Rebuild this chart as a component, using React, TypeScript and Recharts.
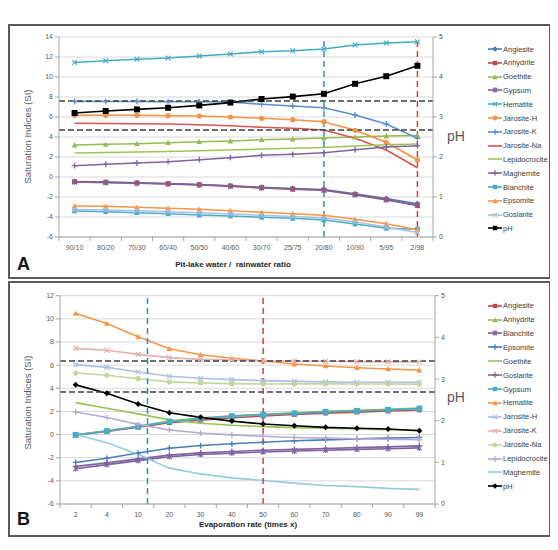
import React from 'react';
import { LineChart, Line, XAxis, YAxis, CartesianGrid, ReferenceLine } from 'recharts';

// Panel A: mixing of pit-lake water with rainwater
const catsA = ['90/10', '80/20', '70/30', '60/40', '50/50', '40/60', '30/70', '25/75', '20/80', '10/90', '5/95', '2/98'];
const anglesiteA = [-0.45, -0.5, -0.57, -0.65, -0.75, -0.87, -1.03, -1.15, -1.25, -1.68, -2.15, -2.67];
const anhydriteA = [-0.47, -0.53, -0.6, -0.67, -0.77, -0.9, -1.07, -1.2, -1.3, -1.75, -2.25, -2.87];
const goethiteA = [3.2, 3.27, 3.33, 3.43, 3.53, 3.6, 3.73, 3.8, 3.9, 4.0, 4.1, 4.15];
const gypsumA = [-0.5, -0.56, -0.63, -0.7, -0.8, -0.93, -1.1, -1.23, -1.33, -1.78, -2.3, -2.8];
const hematiteA = [11.45, 11.63, 11.77, 11.9, 12.1, 12.3, 12.53, 12.63, 12.8, 13.2, 13.4, 13.53];
const jarositeHA = [6.17, 6.17, 6.17, 6.13, 6.1, 6.0, 5.87, 5.73, 5.53, 4.67, 3.47, 1.7];
const jarositeKA = [7.55, 7.55, 7.55, 7.53, 7.52, 7.5, 7.27, 7.1, 6.93, 6.2, 5.3, 3.87];
const jarositeNaA = [5.37, 5.35, 5.33, 5.3, 5.23, 5.13, 4.97, 4.87, 4.7, 3.87, 2.7, 0.93];
const lepidocrociteA = [2.4, 2.45, 2.5, 2.55, 2.62, 2.7, 2.8, 2.87, 2.95, 3.1, 3.22, 3.3];
const maghemiteA = [1.13, 1.27, 1.4, 1.53, 1.73, 1.93, 2.17, 2.27, 2.43, 2.73, 3.0, 3.13];
const bianchiteA = [-3.4, -3.47, -3.57, -3.67, -3.8, -3.9, -4.03, -4.13, -4.3, -4.7, -5.13, -5.23];
const epsomiteA = [-2.9, -2.93, -3.03, -3.13, -3.23, -3.37, -3.53, -3.67, -3.83, -4.23, -4.67, -5.27];
const goslariteA = [-3.25, -3.3, -3.38, -3.48, -3.58, -3.7, -3.83, -3.95, -4.1, -4.5, -5.0, -5.55];
const phA = [3.1, 3.15, 3.19, 3.23, 3.29, 3.36, 3.45, 3.51, 3.58, 3.83, 4.02, 4.28];
const refSIA = [7.6, 4.7];

// Panel B: evaporation
const catsB = ['2', '4', '10', '20', '30', '40', '50', '60', '70', '80', '90', '99'];
const anglesiteB = [-0.05, 0.27, 0.63, 1.02, 1.25, 1.45, 1.6, 1.73, 1.85, 1.94, 2.03, 2.12];
const anhydriteB = [-0.03, 0.33, 0.72, 1.17, 1.42, 1.63, 1.75, 1.88, 2.0, 2.1, 2.19, 2.3];
const bianchiteB = [-2.95, -2.6, -2.25, -1.92, -1.72, -1.6, -1.5, -1.42, -1.35, -1.28, -1.22, -1.15];
const epsomiteB = [-2.41, -2.04, -1.6, -1.18, -0.95, -0.8, -0.66, -0.54, -0.46, -0.37, -0.31, -0.25];
const goethiteB = [2.76, 2.28, 1.79, 1.27, 0.98, 0.81, 0.69, 0.6, 0.55, 0.49, 0.43, 0.37];
const goslariteB = [-2.75, -2.45, -2.1, -1.78, -1.58, -1.46, -1.36, -1.28, -1.2, -1.13, -1.06, -0.98];
const gypsumB = [-0.03, 0.3, 0.69, 1.12, 1.38, 1.59, 1.7, 1.84, 1.96, 2.04, 2.13, 2.24];
const hematiteB = [10.47, 9.6, 8.46, 7.42, 6.9, 6.59, 6.36, 6.1, 5.93, 5.78, 5.67, 5.58];
const jarositeHB = [6.04, 5.81, 5.41, 5.04, 4.86, 4.75, 4.66, 4.6, 4.55, 4.52, 4.52, 4.52];
const jarositeKB = [7.45, 7.28, 6.93, 6.65, 6.5, 6.44, 6.38, 6.36, 6.33, 6.3, 6.28, 6.27];
const jarositeNaB = [5.32, 5.12, 4.83, 4.55, 4.46, 4.4, 4.37, 4.38, 4.38, 4.37, 4.37, 4.36];
const lepidocrociteB = [1.95, 1.47, 0.88, 0.4, 0.13, -0.03, -0.15, -0.25, -0.31, -0.36, -0.4, -0.45];
const maghemiteB = [0, -0.7, -1.7, -2.9, -3.4, -3.74, -3.97, -4.2, -4.4, -4.5, -4.65, -4.74];
const phB = [2.86, 2.66, 2.4, 2.19, 2.08, 1.99, 1.92, 1.88, 1.84, 1.82, 1.8, 1.76];
const refSIB = [6.36, 3.68];

const ticksA = [-6, -4, -2, 0, 2, 4, 6, 8, 10, 12, 14];
const ticksB = [-6, -4, -2, 0, 2, 4, 6, 8, 10, 12];
const ticksPH = [0, 1, 2, 3, 4, 5];

type Shape = 'square' | 'diamond' | 'triangle' | 'circle' | 'x' | 'asterisk' | 'plus' | 'none';
interface Series { name: string; values: number[]; color: string; shape: Shape; axis: 'left' | 'right'; r?: number }

const seriesA: Series[] = [
  { name: 'Anglesite', values: anglesiteA, color: '#4a7ebb', shape: 'diamond', axis: 'left' },
  { name: 'Anhydrite', values: anhydriteA, color: '#be4b48', shape: 'square', axis: 'left' },
  { name: 'Goethite', values: goethiteA, color: '#98b954', shape: 'triangle', axis: 'left' },
  { name: 'Gypsum', values: gypsumA, color: '#7d60a0', shape: 'asterisk', axis: 'left' },
  { name: 'Hematite', values: hematiteA, color: '#46aac5', shape: 'x', axis: 'left' },
  { name: 'Jarosite-H', values: jarositeHA, color: '#f69240', shape: 'circle', axis: 'left' },
  { name: 'Jarosite-K', values: jarositeKA, color: '#5b8fd0', shape: 'plus', axis: 'left' },
  { name: 'Jarosite-Na', values: jarositeNaA, color: '#d9534f', shape: 'none', axis: 'left' },
  { name: 'Lepidocrocite', values: lepidocrociteA, color: '#9bc655', shape: 'none', axis: 'left' },
  { name: 'Maghemite', values: maghemiteA, color: '#8064a2', shape: 'plus', axis: 'left' },
  { name: 'Bianchite', values: bianchiteA, color: '#4bacc6', shape: 'square', axis: 'left' },
  { name: 'Epsomite', values: epsomiteA, color: '#f79646', shape: 'triangle', axis: 'left' },
  { name: 'Goslarite', values: goslariteA, color: '#a9c0e4', shape: 'x', axis: 'left' },
  { name: 'pH', values: phA, color: '#000000', shape: 'square', axis: 'right', r: 3 },
];

const seriesB: Series[] = [
  { name: 'Anglesite', values: anglesiteB, color: '#be4b48', shape: 'square', axis: 'left' },
  { name: 'Anhydrite', values: anhydriteB, color: '#98b954', shape: 'triangle', axis: 'left' },
  { name: 'Bianchite', values: bianchiteB, color: '#7d60a0', shape: 'asterisk', axis: 'left' },
  { name: 'Epsomite', values: epsomiteB, color: '#4a7ebb', shape: 'plus', axis: 'left' },
  { name: 'Goethite', values: goethiteB, color: '#98c455', shape: 'none', axis: 'left' },
  { name: 'Goslarite', values: goslariteB, color: '#8064a2', shape: 'plus', axis: 'left' },
  { name: 'Gypsum', values: gypsumB, color: '#4bacc6', shape: 'square', axis: 'left', r: 3 },
  { name: 'Hematite', values: hematiteB, color: '#f79646', shape: 'triangle', axis: 'left' },
  { name: 'Jarosite-H', values: jarositeHB, color: '#a9c0e4', shape: 'x', axis: 'left' },
  { name: 'Jarosite-K', values: jarositeKB, color: '#e6b0b0', shape: 'x', axis: 'left' },
  { name: 'Jarosite-Na', values: jarositeNaB, color: '#c3d69b', shape: 'circle', axis: 'left' },
  { name: 'Lepidocrocite', values: lepidocrociteB, color: '#b8a9d2', shape: 'plus', axis: 'left' },
  { name: 'Maghemite', values: maghemiteB, color: '#93cddd', shape: 'none', axis: 'left' },
  { name: 'pH', values: phB, color: '#000000', shape: 'diamond', axis: 'right' },
];

const Mark = ({ cx, cy, shape, color, r = 2.4 }: { cx: number; cy: number; shape: Shape; color: string; r?: number }) => {
  if (cx == null || cy == null) return null;
  switch (shape) {
    case 'square':
      return <rect x={cx - r} y={cy - r} width={r * 2} height={r * 2} fill={color} />;
    case 'diamond':
      return <polygon points={`${cx},${cy - r - 0.6} ${cx + r + 0.6},${cy} ${cx},${cy + r + 0.6} ${cx - r - 0.6},${cy}`} fill={color} />;
    case 'triangle':
      return <polygon points={`${cx},${cy - r - 0.5} ${cx + r + 0.4},${cy + r} ${cx - r - 0.4},${cy + r}`} fill={color} />;
    case 'circle':
      return <circle cx={cx} cy={cy} r={r + 0.2} fill={color} />;
    case 'x':
      return <path d={`M${cx - r},${cy - r}L${cx + r},${cy + r}M${cx + r},${cy - r}L${cx - r},${cy + r}`} stroke={color} strokeWidth={1.2} />;
    case 'asterisk':
      return <path d={`M${cx - r},${cy - r}L${cx + r},${cy + r}M${cx + r},${cy - r}L${cx - r},${cy + r}M${cx},${cy - r - 0.5}L${cx},${cy + r + 0.5}`} stroke={color} strokeWidth={1.1} />;
    case 'plus':
      return <path d={`M${cx - r - 0.5},${cy}L${cx + r + 0.5},${cy}M${cx},${cy - r - 0.5}L${cx},${cy + r + 0.5}`} stroke={color} strokeWidth={1.3} />;
    default:
      return null;
  }
};

const tickStyle = { fontSize: 7, fill: '#595959', fontFamily: '"Liberation Sans Narrow", "Liberation Sans", Arial, sans-serif' };
const axisGray = '#a6a6a6';

interface PanelProps {
  cats: string[];
  series: Series[];
  leftTicks: number[];
  refSI: number[];
  blueX: number;
  redX: number;
  width: number;
  height: number;
  margin: { top: number; right: number; left: number; bottom: number };
  leftWidth: number;
}

const Panel = ({ cats, series, leftTicks, refSI, blueX, redX, width, height, margin, leftWidth }: PanelProps) => {
  const data = cats.map((c, i) => {
    const row: Record<string, number | string> = { idx: i, cat: c };
    series.forEach((s) => { row[s.name] = s.values[i]; });
    return row;
  });
  const n = cats.length;
  const domain = [-0.5, n - 0.5];
  const edgeTicks = Array.from({ length: n + 1 }, (_, i) => i - 0.5);
  const labelTicks = cats.map((_, i) => i);
  return (
    <LineChart width={width} height={height} data={data} margin={margin}>
      <CartesianGrid vertical={false} stroke="#d9d9d9" xAxisId="x" yAxisId="left" />
      <XAxis xAxisId="edge" type="number" dataKey="idx" domain={domain} ticks={edgeTicks} tickFormatter={() => ''}
        height={1} stroke={axisGray} tickSize={4} interval={0} />
      <XAxis xAxisId="x" type="number" dataKey="idx" domain={domain} ticks={labelTicks} tickFormatter={(v) => cats[v]}
        axisLine={false} tickLine={false} height={19} tick={tickStyle} tickSize={4} tickMargin={3} interval={0} />
      <YAxis yAxisId="left" domain={[leftTicks[0], leftTicks[leftTicks.length - 1]]} ticks={leftTicks} interval={0}
        width={leftWidth} stroke={axisGray} tickSize={4} tick={tickStyle} />
      <YAxis yAxisId="right" orientation="right" domain={[0, 5]} ticks={ticksPH} interval={0}
        width={30} stroke={axisGray} tickSize={4} tick={tickStyle} />
      {series.map((s) => (
        <Line key={s.name} xAxisId="x" yAxisId={s.axis} type="linear" dataKey={s.name} stroke={s.color}
          strokeWidth={1.6} isAnimationActive={false}
          dot={s.shape === 'none' ? false : (p: any) => <Mark key={`${s.name}-${p.index}`} cx={p.cx} cy={p.cy} shape={s.shape} color={s.color} r={s.r} />} />
      ))}
      {refSI.map((v) => (
        <ReferenceLine key={v} xAxisId="x" yAxisId="left" y={v} stroke="#404040" strokeWidth={1.4} strokeDasharray="6 3" />
      ))}
      <ReferenceLine xAxisId="x" yAxisId="left" x={blueX} stroke="#2e8fd8" strokeWidth={1.5} strokeDasharray="6 4" />
      <ReferenceLine xAxisId="x" yAxisId="left" x={redX} stroke="#e0393b" strokeWidth={1.5} strokeDasharray="6 4" />
    </LineChart>
  );
};

const LegendBox = ({ series, top, step }: { series: Series[]; top: number; step: number }) => (
  <div style={{ position: 'absolute', left: 480, top, width: 70 }}>
    {series.map((s, i) => (
      <div key={s.name} style={{ position: 'absolute', top: i * step - 5, left: 0, height: 10, display: 'flex', alignItems: 'center', whiteSpace: 'nowrap' }}>
        <svg width={14} height={10}>
          <line x1={0} y1={5} x2={14} y2={5} stroke={s.color} strokeWidth={1.6} />
          <Mark cx={7} cy={5} shape={s.shape} color={s.color} r={2.2} />
        </svg>
        <span style={{ fontSize: 7.5, color: '#404040', marginLeft: 1, fontFamily: '"Liberation Sans Narrow", "Liberation Sans", Arial, sans-serif' }}>{s.name}</span>
      </div>
    ))}
  </div>
);

const siTitle: React.CSSProperties = {
  position: 'absolute', width: 160, textAlign: 'center', fontSize: 9.5, color: '#595959',
  transform: 'rotate(-90deg)', fontFamily: '"Liberation Sans", Arial, sans-serif',
};
const phTitle: React.CSSProperties = { position: 'absolute', fontSize: 14, color: '#595959', fontFamily: '"Liberation Sans", Arial, sans-serif' };
const xTitle: React.CSSProperties = {
  position: 'absolute', width: 240, textAlign: 'center', fontSize: 8, fontWeight: 'bold', color: '#262626',
  fontFamily: '"Liberation Sans Narrow", "Liberation Sans", Arial, sans-serif', whiteSpace: 'pre',
};
const panelLetter: React.CSSProperties = { position: 'absolute', fontSize: 18, fontWeight: 'bold', color: '#111', fontFamily: '"Liberation Sans", Arial, sans-serif' };
const boxStyle: React.CSSProperties = { position: 'absolute', left: 0, width: 543, border: '2px solid #5a5a5a', boxSizing: 'border-box', background: '#fff' };

export default function App() {
  // coordinates below are relative to the wrapper, which sits at page (8, 8)
  return (
    <div style={{ position: 'relative', width: 550, height: 534, background: '#fff' }}>
      <div style={{ ...boxStyle, top: 16, height: 255 }}>
        <div style={{ position: 'absolute', left: 0, top: 0 }}>
          <Panel cats={catsA} series={seriesA} leftTicks={ticksA} refSI={refSIA} blueX={8} redX={11}
            width={539} height={251} margin={{ top: 11, right: 86, left: 0, bottom: 20 }} leftWidth={49} />
        </div>
      </div>
      <div style={{ ...siTitle, left: 19 - 80, top: 129 - 6 }}>Saturation Indices (SI)</div>
      <div style={{ ...phTitle, left: 439, top: 120 }}>pH</div>
      <div style={{ ...xTitle, left: 225 - 120, top: 252 }}>{'Pit-lake water /  rainwater ratio'}</div>
      <div style={{ ...panelLetter, left: 9, top: 246 }}>A</div>
      <LegendBox series={seriesA} top={41} step={13.8} />

      <div style={{ ...boxStyle, top: 273, height: 256 }}>
        <div style={{ position: 'absolute', left: 0, top: 0 }}>
          <Panel cats={catsB} series={seriesB} leftTicks={ticksB} refSI={refSIB} blueX={2.3} redX={6}
            width={539} height={252} margin={{ top: 12.7, right: 84, left: 0, bottom: 11 }} leftWidth={50} />
        </div>
      </div>
      <div style={{ ...siTitle, left: 19 - 80, top: 395 - 6 }}>Saturation Indices (SI)</div>
      <div style={{ ...phTitle, left: 439, top: 381 }}>pH</div>
      <div style={{ ...xTitle, left: 240 - 120, top: 512 }}>Evaporation rate (times x)</div>
      <div style={{ ...panelLetter, left: 9, top: 501 }}>B</div>
      <LegendBox series={seriesB} top={297.7} step={13.9} />
    </div>
  );
}
